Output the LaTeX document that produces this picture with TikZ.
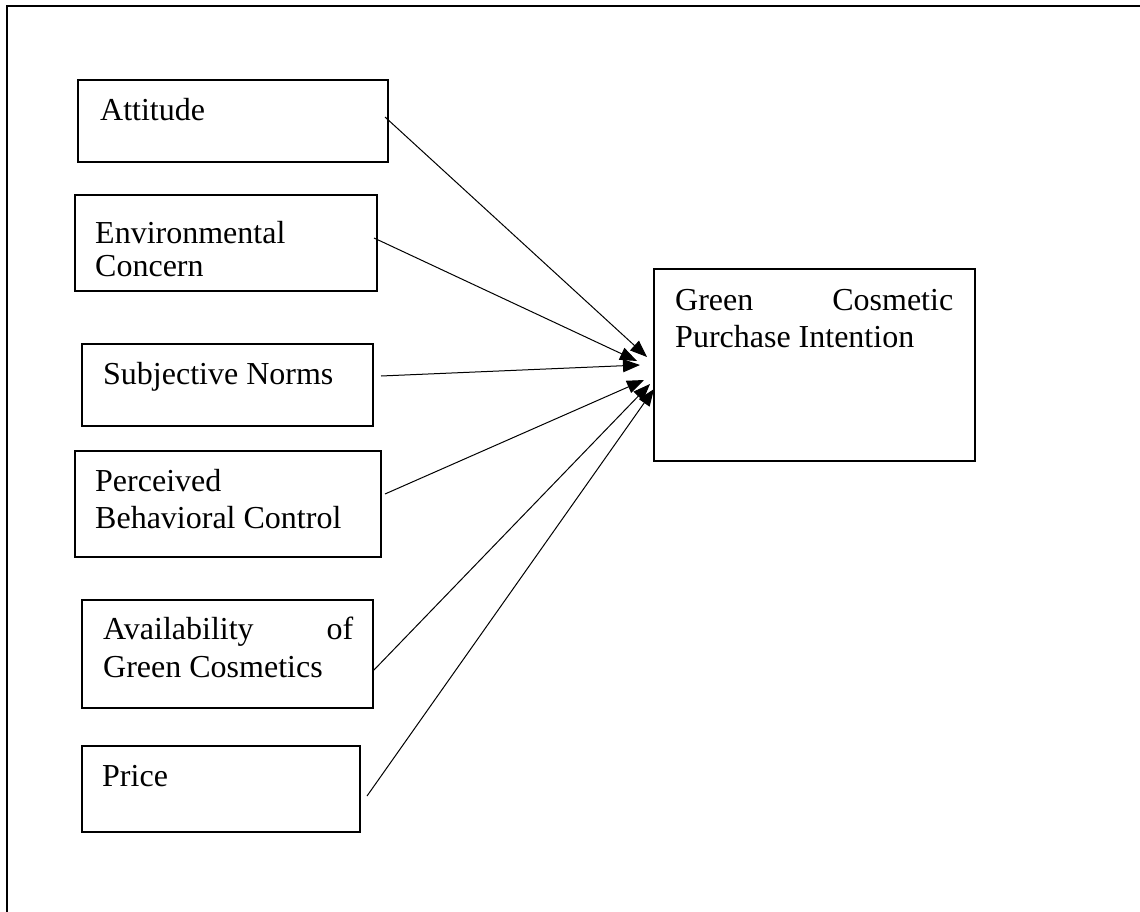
\documentclass[tikz,border=0pt]{standalone}
\usepackage{fontspec}
\setmainfont{Liberation Serif}
\usetikzlibrary{arrows.meta}
\begin{document}
\begin{tikzpicture}[x=1pt,y=-1pt,
  box/.style={draw, line width=1.1pt, rectangle, inner sep=0pt},
  lbl/.style={anchor=base west, inner sep=0pt, font=\fontsize{32}{36}\selectfont},
  link/.style={line width=1pt, -{Triangle[length=17pt,width=13pt]}, shorten >=0pt},
  frame/.style={line width=1.6pt}]
\useasboundingbox (0,0) rectangle (1140,912);
% page frame (top and left rules only)
\draw[frame] (1140,6) -- (7,6) -- (7,912);

% factor boxes
\node[box, minimum width=310, minimum height=82] (att) at (233,121) {};
\node[box, minimum width=302, minimum height=96] (env) at (226,243) {};
\node[box, minimum width=291, minimum height=82] (sub) at (227.5,385) {};
\node[box, minimum width=306, minimum height=106] (pbc) at (228,504) {};
\node[box, minimum width=291, minimum height=108] (ava) at (227.5,654) {};
\node[box, minimum width=278, minimum height=86] (pri) at (221,789) {};
% outcome box
\node[box, minimum width=321, minimum height=192] (gci) at (814.5,365) {};

% labels
\node[lbl] (tatt) at (100,121) {Attitude};
\node[lbl] (tenv1) at (95,243) {Environmental};
\node[lbl] (tenv2) at (95,276) {Concern};
\node[lbl] (tsub) at (103,384) {Subjective Norms};
\node[lbl] (tpbc1) at (95,491) {Perceived};
\node[lbl] (tpbc2) at (95,528) {Behavioral Control};
\node[lbl] (tava1) at (103,639) {\makebox[250pt][s]{Availability\hfill of}};
\node[lbl] (tava2) at (103,677) {Green Cosmetics};
\node[lbl] (tpri) at (102,786) {Price};
\node[lbl] (tgci1) at (675,310) {\makebox[278pt][s]{Green\hfill Cosmetic}};
\node[lbl] (tgci2) at (675,347) {Purchase Intention};

% connector ends
\coordinate (s1) at (385,117);
\coordinate (s2) at (374,238);
\coordinate (s3) at (381,376);
\coordinate (s4) at (385,494);
\coordinate (s5) at (373,671);
\coordinate (s6) at (367,796);
\coordinate (e1) at (647,357);
\coordinate (e2) at (637,361);
\coordinate (e3) at (640,365);
\coordinate (e4) at (644,380);
\coordinate (e5) at (650,384);
\coordinate (e6) at (654,389);

\draw[link] (s1) -- (e1);
\draw[link] (s2) -- (e2);
\draw[link] (s3) -- (e3);
\draw[link] (s4) -- (e4);
\draw[link] (s5) -- (e5);
\draw[link] (s6) -- (e6);
\end{tikzpicture}
\end{document}
